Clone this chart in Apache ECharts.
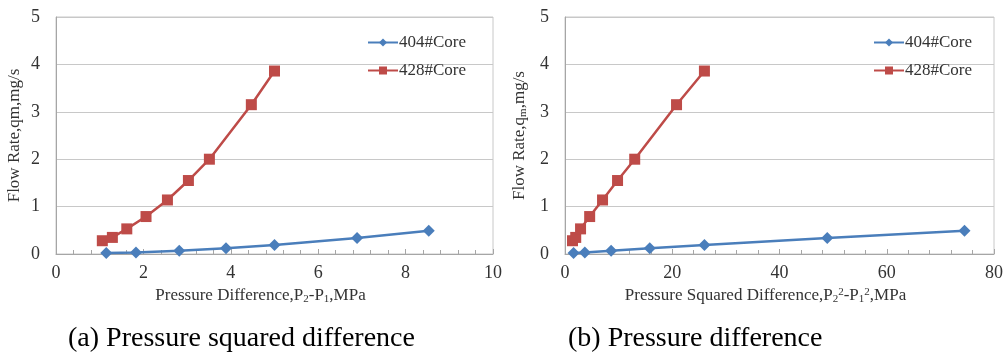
<!DOCTYPE html>
<html><head><meta charset="utf-8">
<script src="https://cdn.jsdelivr.net/npm/echarts@6/dist/echarts.min.js"></script>
<style>html,body{margin:0;padding:0;background:#fff}#c{width:1006px;height:360px}</style>
</head><body><div id="c"></div>
<script>
// Left chart: pressure difference P2-P1 (MPa)
const dp404 = [1.15, 1.83, 2.82, 3.89, 5.0, 6.89, 8.53];
const q404 = [0.02, 0.03, 0.07, 0.12, 0.19, 0.34, 0.49];
const dp428 = [1.06, 1.29, 1.62, 2.06, 2.55, 3.03, 3.51, 4.47, 5.0];
const q428 = [0.28, 0.35, 0.53, 0.79, 1.14, 1.55, 2.0, 3.15, 3.86];
// Right chart: pressure squared difference P2^2-P1^2 (MPa^2)
const dp2_404 = [1.6, 3.7, 8.6, 15.8, 26.0, 48.9, 74.5];
const dp2_428 = [1.4, 2.0, 2.9, 4.6, 7.0, 9.8, 13.0, 20.8, 26.0];
const xTicksLeft = [0, 2, 4, 6, 8, 10];
const xTicksRight = [0, 20, 40, 60, 80];
const yTicks = [0, 1, 2, 3, 4, 5];
const captions = ['(a) Pressure squared difference', '(b) Pressure difference'];
const seriesNames = ['404#Core', '428#Core'];

const BLUE = '#4a7ebb', RED = '#be4b48';
const SERIF = '"Liberation Serif","Times New Roman",serif';
const zip = (a, b) => a.map((v, i) => [v, b[i]]);

const subRich = {
  sub: {fontSize: 11, fontFamily: SERIF, color: '#333', verticalAlign: 'bottom', padding: [7, 0, 0, 0]},
  sup: {fontSize: 11, fontFamily: SERIF, color: '#333', verticalAlign: 'top', padding: [0, 0, 7, 0]}
};

function xAxis(gi, ticks, name) {
  return {
    type: 'value', gridIndex: gi, min: ticks[0], max: ticks[ticks.length - 1],
    interval: ticks[1] - ticks[0],
    name: name, nameLocation: 'middle', nameGap: 27,
    nameTextStyle: {fontFamily: SERIF, fontSize: 17, color: '#333', rich: subRich, padding: [0, 28, 0, 0]},
    axisLine: {show: true, lineStyle: {color: '#a6a6a6', width: 1}},
    axisTick: {show: true, inside: true, length: 5, lineStyle: {color: '#a6a6a6'}},
    minorTick: {show: true, splitNumber: 5, length: 4, lineStyle: {color: '#a6a6a6'}},
    splitLine: {show: false},
    axisLabel: {fontFamily: SERIF, fontSize: 18, color: '#333', margin: 10}
  };
}
function yAxis(gi, name, gap) {
  return {
    type: 'value', gridIndex: gi, min: yTicks[0], max: yTicks[yTicks.length - 1], interval: 1,
    name: name, nameLocation: 'middle', nameGap: gap,
    nameTextStyle: {fontFamily: SERIF, fontSize: 17, color: '#333', rich: subRich},
    axisLine: {show: true, lineStyle: {color: '#a6a6a6', width: 1}},
    axisTick: {show: false},
    splitLine: {show: true, lineStyle: {color: '#c8c8c8', width: 1}},
    axisLabel: {fontFamily: SERIF, fontSize: 18, color: '#333', margin: 16}
  };
}
function ser(name, gi, data, color, symbol, size) {
  return {
    name: name, type: 'line', xAxisIndex: gi, yAxisIndex: gi, data: data,
    symbol: symbol, symbolSize: size, showSymbol: true,
    lineStyle: {color: color, width: 2.5}, itemStyle: {color: color},
    emphasis: {disabled: true}, animation: false
  };
}
function legend(left) {
  return {
    data: seriesNames, orient: 'vertical', left: left, top: 29, itemGap: 11,
    itemWidth: 30, itemHeight: 10,
    textStyle: {fontFamily: SERIF, fontSize: 17, color: '#333', padding: [0, 0, 0, -4]}
  };
}

const chart = echarts.init(document.getElementById('c'), null, {renderer: 'canvas'});
chart.setOption({
  backgroundColor: '#fff',
  animation: false,
  grid: [
    {left: 56, top: 17, width: 437, height: 237, show: true, borderColor: '#c8c8c8', borderWidth: 1},
    {left: 565, top: 17, width: 432, height: 237, show: true, borderColor: '#c8c8c8', borderWidth: 1}
  ],
  legend: [legend(362), legend(868)],
  xAxis: [
    xAxis(0, xTicksLeft, 'Pressure Difference,P{sub|2}-P{sub|1},MPa'),
    xAxis(1, xTicksRight, 'Pressure Squared Difference,P{sub|2}{sup|2}-P{sub|1}{sup|2},MPa')
  ],
  yAxis: [
    yAxis(0, 'Flow Rate,qm,mg/s', 33),
    yAxis(1, 'Flow Rate,q{sub|m},mg/s', 36)
  ],
  series: [
    ser(seriesNames[0], 0, zip(dp404, q404), BLUE, 'diamond', 12),
    ser(seriesNames[1], 0, zip(dp428, q428), RED, 'rect', 11),
    ser(seriesNames[0], 1, zip(dp2_404, q404), BLUE, 'diamond', 12),
    ser(seriesNames[1], 1, zip(dp2_428, q428), RED, 'rect', 11)
  ],
  graphic: [
    {type: 'text', x: 68, y: 325, style: {text: captions[0], font: '28px ' + SERIF, fill: '#000'}},
    {type: 'text', x: 568, y: 325, style: {text: captions[1], font: '28px ' + SERIF, fill: '#000'}}
  ]
});
</script></body></html>
